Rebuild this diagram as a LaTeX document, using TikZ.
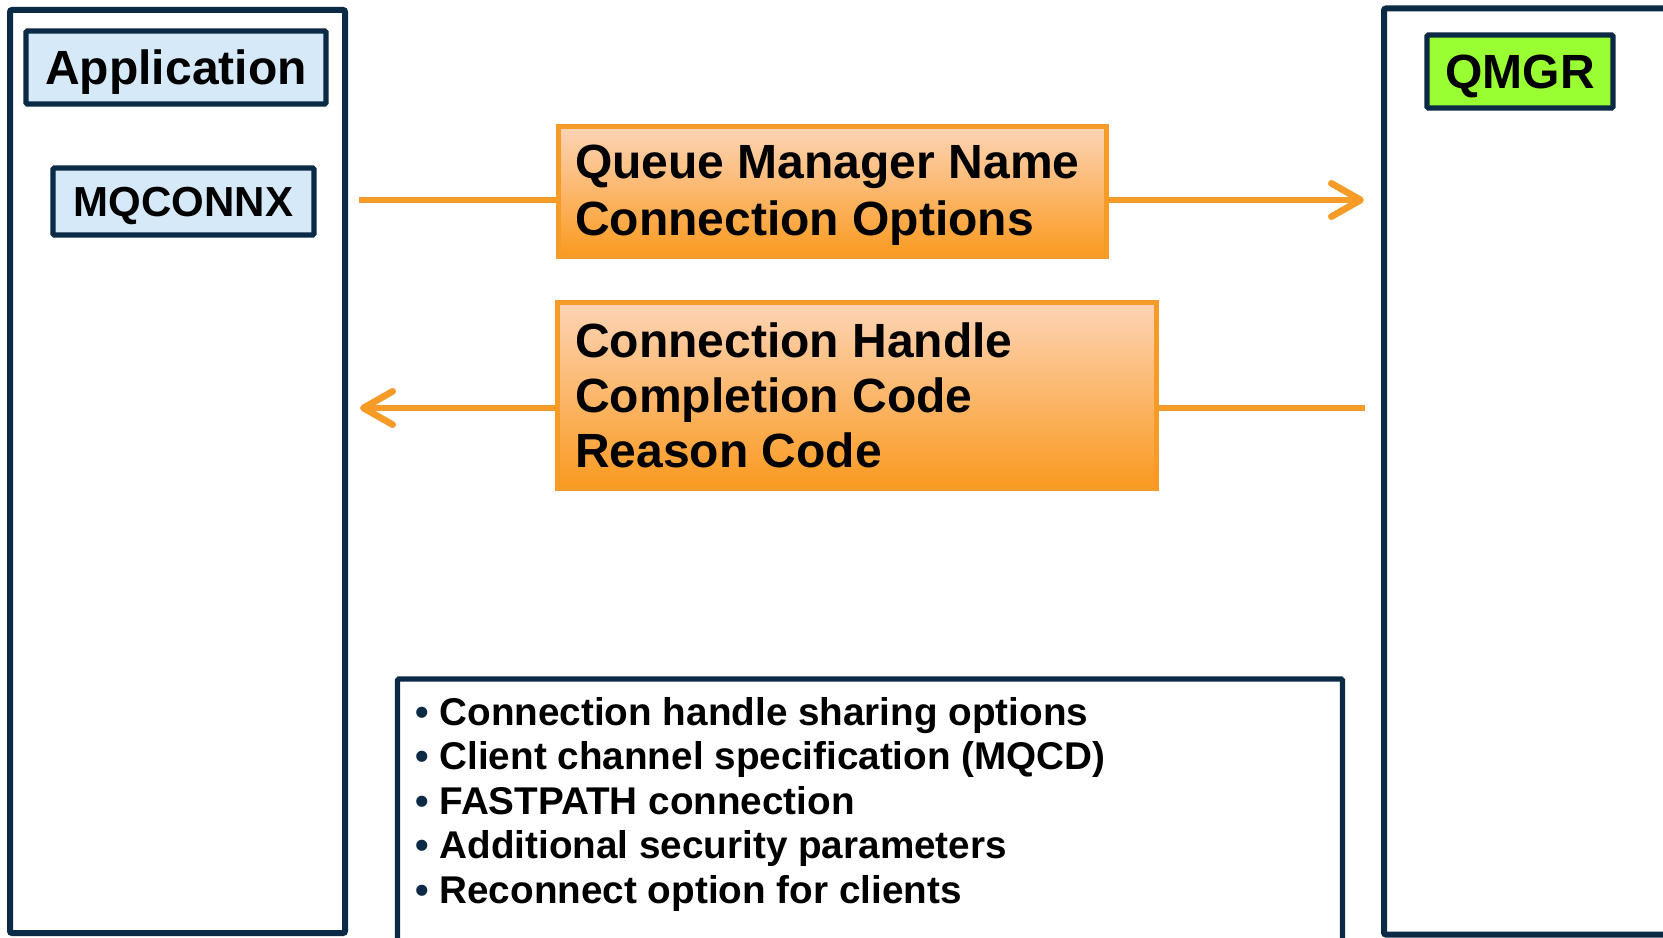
\documentclass[tikz,border=0pt]{standalone}
\usepackage{fontspec}
\setmainfont{Liberation Sans}
\usetikzlibrary{arrows.meta}
\definecolor{navy}{HTML}{0B2A45}
\definecolor{appblue}{HTML}{D6E9F8}
\definecolor{qgreen}{HTML}{99FF33}
\definecolor{flow}{HTML}{F69B28}
\definecolor{peach}{HTML}{FDD4B6}
\definecolor{deeporange}{HTML}{FA9A20}
\begin{document}
\begin{tikzpicture}[x=0.75pt,y=-0.75pt,
  frame/.style={draw=navy, fill=white, line width=4.5pt, rounded corners=1.5pt, inner sep=0pt},
  tag/.style={draw=navy, line width=4pt, rounded corners=1pt, inner sep=0pt,
    text height=25.8pt, text depth=0pt, font=\bfseries\fontsize{36}{40}\selectfont},
  obox/.style={draw=flow, line width=3.75pt, top color=peach, bottom color=deeporange, inner sep=0pt},
  flowline/.style={draw=flow, line width=5pt},
  tip/.style={-{Straight Barb[length=22pt,width=25pt,round]}},
  otext/.style={anchor=base west, inner sep=0pt, font=\bfseries\fontsize{36}{40}\selectfont},
  ltext/.style={anchor=base west, inner sep=0pt, font=\bfseries\fontsize{29}{33}\selectfont}]
\useasboundingbox (0,0) rectangle (1663,938);
\clip (0,0) rectangle (1663,938);
\fill[white] (0,0) rectangle (1663,938);

% application side
\node[frame, minimum width=251.25pt, minimum height=692.25pt] (app) at (177.5,471.5) {};
\node[tag, fill=appblue, minimum width=225pt, minimum height=54.75pt] (apptag) at (176,67.5) {Application};
\node[tag, fill=appblue, minimum width=195.75pt, minimum height=50.25pt, text height=22.6pt,
      font=\bfseries\fontsize{31.5}{36}\selectfont] (call) at (183.5,201.5) {MQCONNX};

% queue manager side
\node[frame, minimum width=237pt, minimum height=694.5pt] (qm) at (1542,471.5) {};
\node[tag, fill=qgreen, minimum width=139.5pt, minimum height=54.75pt] (qmtag) at (1520,71.5) {QMGR};

% connector end points
\coordinate (in1) at (359,200);
\coordinate (out1) at (1364,200);
\coordinate (in2) at (1365,408);
\coordinate (out2) at (360,408);

% request parameters
\node[obox, minimum width=411pt, minimum height=96.75pt] (req) at (832,191.5) {};
\draw[flowline] (in1) -- (in1 -| req.west);
\draw[flowline, tip] (in1 -| req.east) -- (out1);
\node[otext] (req1) at (575,179) {Queue Manager Name};
\node[otext] (req2) at (575,235) {Connection Options};

% returned values
\node[obox, minimum width=449.25pt, minimum height=139.5pt] (rep) at (856.5,395) {};
\draw[flowline] (in2) -- (in2 -| rep.east);
\draw[flowline, tip] (in2 -| rep.west) -- (out2);
\node[otext] (rep1) at (575,357) {Connection Handle};
\node[otext] (rep2) at (575,412) {Completion Code};
\node[otext] (rep3) at (575,467) {Reason Code};

% extra MQCONNX options
\node[frame, line width=4pt, rounded corners=1pt, minimum width=708.75pt, minimum height=218.25pt] (opts) at (870,824.5) {};
\node[ltext] (o1) at (415,725) {{\color{navy}•} Connection handle sharing options};
\node[ltext] (o2) at (415,769.5) {{\color{navy}•} Client channel specification (MQCD)};
\node[ltext] (o3) at (415,814) {{\color{navy}•} FASTPATH connection};
\node[ltext] (o4) at (415,858.5) {{\color{navy}•} Additional security parameters};
\node[ltext] (o5) at (415,903) {{\color{navy}•} Reconnect option for clients};
\end{tikzpicture}
\end{document}
